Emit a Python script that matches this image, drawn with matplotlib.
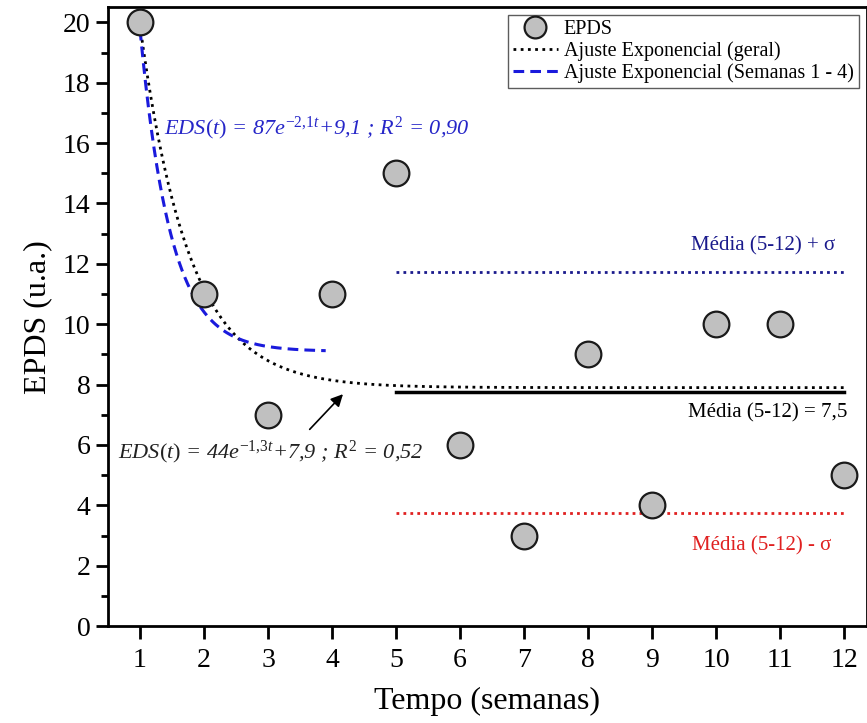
import numpy as np
import matplotlib
matplotlib.use("Agg")
import matplotlib.pyplot as plt

plt.rcParams['font.family'] = ['Liberation Serif', 'DejaVu Serif']
plt.rcParams['mathtext.fontset'] = 'custom'
plt.rcParams['mathtext.rm'] = 'Liberation Serif'
plt.rcParams['mathtext.it'] = 'Liberation Serif:italic'

# data
weeks = [1, 2, 3, 4, 5, 6, 7, 8, 9, 10, 11, 12]
epds = [20, 11, 7, 11, 15, 6, 3, 9, 4, 10, 10, 5]

# fit parameters (a, b, c) for a*exp(-b*t)+c
fit_all = (44, 1.3, 7.9)
fit_1_4 = (87, 2.1, 9.1)

mean_range = (5, 12)
sub = np.array(epds[4:])
mean_val = sub.mean()
std_val = sub.std(ddof=1)

fig = plt.figure(figsize=(8.67, 7.23), dpi=100)
ax = fig.add_axes([0.1246, 0.134, 0.875, 0.856])

t = np.linspace(1, 12, 400)
ax.plot(t, fit_all[0] * np.exp(-fit_all[1] * t) + fit_all[2], color='black',
        ls=(0, (1, 1.6)), lw=2, label='Ajuste Exponencial (geral)', zorder=3)
t2 = np.linspace(1, 3.9, 200)
ax.plot(t2, fit_1_4[0] * np.exp(-fit_1_4[1] * t2) + fit_1_4[2], color='#1a1adc',
        ls=(0, (3.5, 2)), lw=2.2, label='Ajuste Exponencial (Semanas 1 - 4)', zorder=3)

ax.plot(mean_range, [mean_val, mean_val], color='black', lw=2.5, zorder=2)
ax.plot(mean_range, [mean_val + std_val] * 2, color='#1a1a8c', ls=(0, (1, 1.5)), lw=2, zorder=2)
ax.plot(mean_range, [mean_val - std_val] * 2, color='#e02020', ls=(0, (1, 1.5)), lw=2, zorder=2)

ax.plot(weeks, epds, 'o', ms=18.5, mfc='#c0c0c0', mec='#1a1a1a', mew=1.6,
        label='EPDS', zorder=4)

ax.text(11.86, 12.6, u'Média (5-12) + σ', color='#1a1a8c', fontsize=15, ha='right', va='center')
ax.text(12.05, 7.05, u'Média (5-12) = 7,5', color='black', fontsize=15, ha='right', va='center')
ax.text(11.8, 2.65, u'Média (5-12) - σ', color='#e02020', fontsize=15, ha='right', va='center')

ax.text(1.37, 16.5, r'$EDS(t)$ = 87$e^{\mathit{-2{,}1t}}$+9,1 ; $R^{\mathit{2}}$ = 0,90',
        color='#2626c8', fontsize=16, style='italic', va='center')
ax.text(0.66, 5.76, r'$EDS(t)$ = 44$e^{\mathit{-1{,}3t}}$+7,9 ; $R^{\mathit{2}}$ = 0,52',
        color='#222222', fontsize=16, style='italic', va='center')
ax.annotate('', xy=(4.2, 7.75), xytext=(3.62, 6.45),
            arrowprops=dict(arrowstyle='-|>', color='black', lw=1.2, mutation_scale=18))

ax.set_xlim(0.5, 12.35)
ax.set_ylim(0, 20.5)
ax.set_xticks(weeks)
ax.set_yticks(np.arange(0, 21, 2))
ax.set_yticks(np.arange(1, 20, 2), minor=True)
ax.tick_params(axis='both', which='major', direction='out', length=9, width=2, labelsize=20)
ax.tick_params(axis='y', which='minor', direction='out', length=5, width=2)
ax.tick_params(axis='x', pad=7)
for s in ax.spines.values():
    s.set_linewidth(2)

ax.set_xlabel('Tempo (semanas)', fontsize=23, labelpad=10)
ax.set_ylabel('EPDS (u.a.)', fontsize=23, labelpad=8)

h, l = ax.get_legend_handles_labels()
order = [2, 0, 1]
leg = ax.legend([h[i] for i in order], [l[i] for i in order], loc='upper right',
                fontsize=14.5, frameon=True, fancybox=False, edgecolor='#333333',
                borderpad=0.25, labelspacing=0.1, handlelength=2.2, handletextpad=0.3,
                borderaxespad=0.4, markerscale=0.85)
leg.get_frame().set_linewidth(1)

fig.savefig('out.png', dpi=100)
